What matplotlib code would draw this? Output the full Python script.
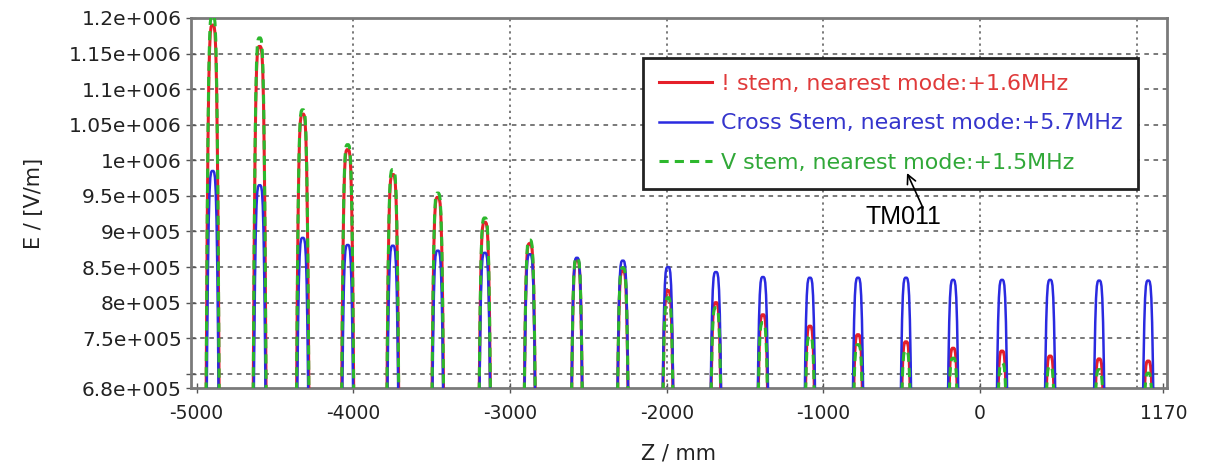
import numpy as np
import matplotlib
matplotlib.use("Agg")
import matplotlib.pyplot as plt

# ---- data ----
gap_centers_mm = [-4898, -4598, -4323, -4036, -3748, -3461, -3161, -2874, -2573, -2280,
                  -1992, -1686, -1386, -1086, -779, -473, -172, 140, 447, 760, 1073]

i_stem_peaks = [1.190e6, 1.160e6, 1.065e6, 1.015e6, 0.980e6, 0.948e6, 0.913e6, 0.883e6,
                0.860e6, 0.845e6, 0.817e6, 0.800e6, 0.783e6, 0.767e6, 0.755e6, 0.745e6,
                0.736e6, 0.732e6, 0.725e6, 0.721e6, 0.718e6]
cross_stem_peaks = [0.985e6, 0.965e6, 0.891e6, 0.881e6, 0.880e6, 0.873e6, 0.870e6, 0.868e6,
                    0.863e6, 0.859e6, 0.850e6, 0.843e6, 0.836e6, 0.835e6, 0.835e6, 0.835e6,
                    0.832e6, 0.832e6, 0.832e6, 0.831e6, 0.831e6]
v_stem_peaks = [1.205e6, 1.172e6, 1.071e6, 1.022e6, 0.987e6, 0.954e6, 0.919e6, 0.888e6,
                0.863e6, 0.849e6, 0.807e6, 0.793e6, 0.772e6, 0.753e6, 0.741e6, 0.733e6,
                0.722e6, 0.715e6, 0.711e6, 0.706e6, 0.701e6]

# relative shape of one accelerating gap (offset from gap centre in mm, fraction of peak)
gap_offsets_mm = [-65, -55, -50, -45, -40, -35, -30, -25, -20, -15, -10, -5, 0,
                  5, 10, 15, 20, 25, 30, 35, 40, 45, 50, 55, 65]
gap_fraction = [0.035, 0.178, 0.308, 0.462, 0.617, 0.754, 0.858, 0.929, 0.970, 0.9905, 0.998, 1.0, 1.0,
                1.0, 0.998, 0.9905, 0.970, 0.929, 0.858, 0.754, 0.617, 0.462, 0.308, 0.178, 0.035]

series_labels = ["! stem, nearest mode:+1.6MHz",
                 "Cross Stem, nearest mode:+5.7MHz",
                 "V stem, nearest mode:+1.5MHz"]

x_ticks = [-5000, -4000, -3000, -2000, -1000, 0, 1170]
x_grid = [-4000, -3000, -2000, -1000, 0, 1000]
y_ticks = [6.8e5, 7.0e5, 7.5e5, 8.0e5, 8.5e5, 9.0e5, 9.5e5, 1.0e6, 1.05e6, 1.1e6, 1.15e6, 1.2e6]
y_tick_labels = ["6.8e+005", "", "7.5e+005", "8e+005", "8.5e+005", "9e+005", "9.5e+005",
                 "1e+006", "1.05e+006", "1.1e+006", "1.15e+006", "1.2e+006"]


def build_curve(peaks):
    z, e = [], []
    for c, p in zip(gap_centers_mm, peaks):
        for d, f in zip(gap_offsets_mm, gap_fraction):
            z.append(c + d)
            e.append(p * f)
    return np.array(z), np.array(e)


H = 467
fig = plt.figure(figsize=(12.07, 4.67), dpi=100)
ax = fig.add_axes([0.158, 0.169, 0.809, 0.7925])

red = "#e5202a"
blue = "#2a2ae0"
green = "#2db82d"

z, e = build_curve(i_stem_peaks)
l1, = ax.plot(z, e, color=red, lw=2.2, label=series_labels[0], zorder=3)
z, e = build_curve(cross_stem_peaks)
l2, = ax.plot(z, e, color=blue, lw=1.8, label=series_labels[1], zorder=4)
z, e = build_curve(v_stem_peaks)
l3, = ax.plot(z, e, color=green, lw=2.2, ls=(0, (3, 2)), label=series_labels[2], zorder=5)

ax.set_xlim(-5038, 1194)
ax.set_ylim(6.8e5, 1.2e6)

ax.set_xticks(x_ticks)
ax.set_xticklabels([str(t) for t in x_ticks], fontsize=13.5, color="#222222")
ax.set_yticks(y_ticks)
ax.set_yticklabels(y_tick_labels, fontsize=14.5, color="#222222")
ax.tick_params(direction="inout", length=7, width=1, colors="#555555", labelcolor="#222222")
ax.tick_params(axis="x", pad=8)
ax.tick_params(axis="y", pad=3)

for v in x_grid:
    ax.axvline(v, color="#555555", lw=1.1, ls=(0, (1.5, 2.5)), zorder=1)
for v in y_ticks[1:-1]:
    ax.axhline(v, color="#555555", lw=1.1, ls=(0, (3, 3)), zorder=1)

for s in ax.spines.values():
    s.set_color("#7a7a7a")
    s.set_linewidth(2)

ax.set_xlabel("Z / mm", fontsize=15, color="#222222", labelpad=15)
ax.set_ylabel("E / [V/m]", fontsize=15, color="#222222", labelpad=18)

leg = ax.legend(handles=[l1, l2, l3], loc="upper left", bbox_to_anchor=(0.463, 0.892),
                fontsize=15.9, frameon=True, fancybox=False, handlelength=2.4,
                handletextpad=0.4, borderpad=0.72, labelspacing=0.88, borderaxespad=0)
leg.get_frame().set_edgecolor("#222222")
leg.get_frame().set_linewidth(2)
leg.get_frame().set_alpha(1)
for t, c in zip(leg.get_texts(), ["#e03a3a", "#3535cc", "#30a838"]):
    t.set_color(c)

fig.text(865, H - 224, "TM011", transform=None, fontsize=18, family="Liberation Sans",
         color="black", va="baseline", ha="left", zorder=10)
ax.annotate("", xy=(907, H - 173), xycoords="figure pixels",
            xytext=(923, H - 208), textcoords="figure pixels",
            arrowprops=dict(arrowstyle="->", color="black", lw=1.2,
                            shrinkA=0, shrinkB=0, mutation_scale=16),
            zorder=10)

fig.savefig("out.png", dpi=100)
